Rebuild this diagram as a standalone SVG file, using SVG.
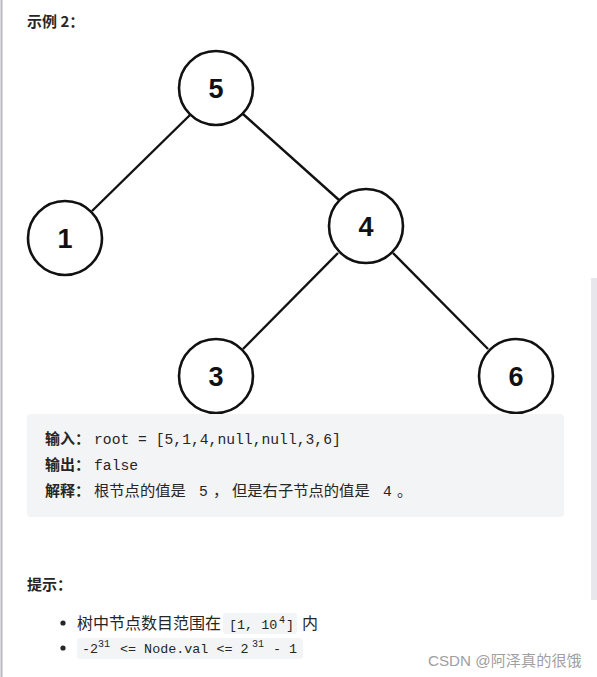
<svg xmlns="http://www.w3.org/2000/svg" width="597" height="677" viewBox="0 0 597 677">
<style>
.node circle{fill:#fff;stroke:#111;stroke-width:2.6}
.node text{font-family:"Liberation Sans",Arial,sans-serif;font-weight:bold;font-size:27px;fill:#111;text-anchor:middle}
.edge{stroke:#111;stroke-width:2.4;fill:none}
.cjk{font-family:"Noto Sans CJK SC",sans-serif;fill:#262626}
.b{font-weight:bold}
.mono{font-family:"Liberation Mono","DejaVu Sans Mono",monospace;fill:#262626}
</style>
<rect x="0" y="0" width="597" height="677" fill="#fff"/>
<rect x="0.5" y="0" width="2" height="677" fill="#b8b8c0"/>
<rect x="591" y="278" width="6" height="322" fill="#e8e8ec"/>
<text x="27" y="27" class="cjk b" font-size="15">示例 2：</text>
<g id="connectors">
<line class="edge" x1="190" y1="115" x2="92" y2="211"/>
<line class="edge" x1="243" y1="114" x2="339" y2="200"/>
<line class="edge" x1="338" y1="253" x2="243" y2="349"/>
<line class="edge" x1="393" y1="253" x2="488" y2="349"/>
</g>
<g id="node5" class="node"><circle cx="216" cy="88" r="37"/><text x="216" y="98">5</text></g>
<g id="node1" class="node"><circle cx="65" cy="238" r="37"/><text x="65" y="248">1</text></g>
<g id="node4" class="node"><circle cx="366" cy="226" r="37"/><text x="366" y="236">4</text></g>
<g id="node3" class="node"><circle cx="216" cy="376" r="37"/><text x="216" y="386">3</text></g>
<g id="node6" class="node"><circle cx="516" cy="376" r="37"/><text x="516" y="386">6</text></g>
<rect x="27" y="414" width="537" height="103" rx="4" fill="#f3f4f5"/>
<text x="45" y="444" class="cjk b" font-size="15">输入：</text>
<text x="94" y="444" class="mono" font-size="14.7">root = [5,1,4,null,null,3,6]</text>
<text x="45" y="470" class="cjk b" font-size="15">输出：</text>
<text x="94" y="470" class="mono" font-size="14.7">false</text>
<text x="45" y="496" class="cjk b" font-size="15">解释：</text>
<text y="496" class="cjk" font-size="15.3"><tspan x="94">根节点的值是</tspan><tspan x="199" class="mono" font-size="14.7">5</tspan><tspan x="213">，</tspan><tspan x="232">但是右子节点的值是</tspan><tspan x="383" class="mono" font-size="14.7">4</tspan><tspan x="397">。</tspan></text>
<text x="27" y="590" class="cjk b" font-size="15">提示：</text>
<circle cx="63" cy="623" r="2.6" fill="#262626"/>
<circle cx="63" cy="648" r="2.6" fill="#262626"/>
<text x="77" y="629" class="cjk" font-size="16">树中节点数目范围在</text>
<rect x="223" y="613" width="74" height="21" rx="3" fill="#f3f4f5"/>
<text y="629" class="mono" font-size="13.4" fill="#444"><tspan x="229">[1, 10</tspan><tspan x="279" dy="-6" font-size="10">4</tspan><tspan x="286" dy="6">]</tspan></text>
<text x="302" y="629" class="cjk" font-size="16">内</text>
<rect x="77" y="638" width="226" height="21" rx="3" fill="#f3f4f5"/>
<text y="653" class="mono" font-size="13.4"><tspan x="82">-2</tspan><tspan x="98" dy="-6" font-size="10">31</tspan><tspan x="120" dy="6">&lt;= Node.val &lt;= 2</tspan><tspan x="252" dy="-6" font-size="10">31</tspan><tspan x="273" dy="6">- 1</tspan></text>
<text x="428" y="666" font-family="'Liberation Sans','Noto Sans CJK SC',sans-serif" font-size="15.2" fill="#a0a0a0">CSDN @阿泽真的很饿</text>
</svg>
